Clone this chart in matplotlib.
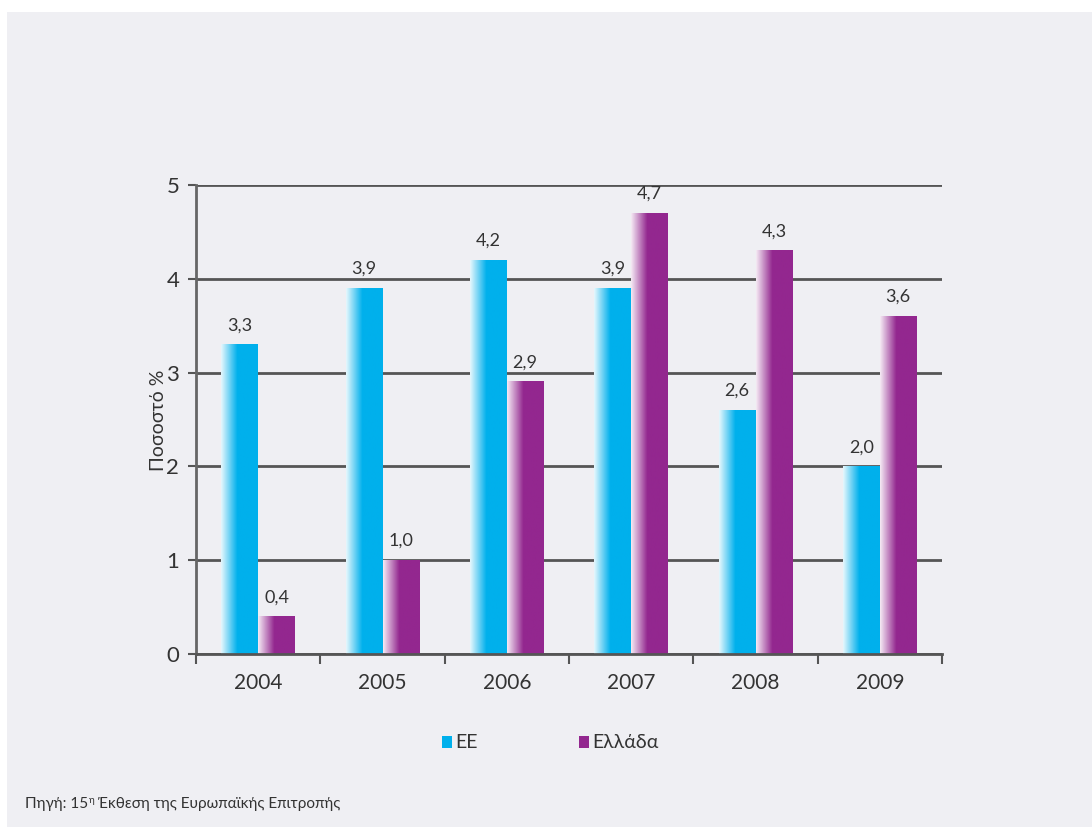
import matplotlib
matplotlib.use("Agg")
import matplotlib.pyplot as plt
import numpy as np
from matplotlib.colors import LinearSegmentedColormap
from matplotlib.patches import Rectangle

years = ["2004", "2005", "2006", "2007", "2008", "2009"]
ee = [3.3, 3.9, 4.2, 3.9, 2.6, 2.0]
greece = [0.4, 1.0, 2.9, 4.7, 4.3, 3.6]
series_names = ["ΕΕ", "Ελλάδα"]
y_ticks = [0, 1, 2, 3, 4, 5]
ylabel = "Ποσοστό %"
source_a = "Πηγή: 15"
source_sup = "η"
source_b = " Έκθεση της Ευρωπαϊκής Επιτροπής"

fam = ["Lato", "DejaVu Sans"]
plt.rcParams['font.family'] = fam

W, H = 1092, 827
fig = plt.figure(figsize=(W / 100, H / 100), dpi=100)
fig.patch.set_facecolor("white")
bg = "#efeff3"
fig.patches.append(Rectangle((7 / W, 0), 1 - 7 / W, 1 - 12 / H, transform=fig.transFigure,
                             facecolor=bg, edgecolor="none", zorder=-10))

ax = fig.add_axes([196 / W, 1 - 654 / H, (942 - 196) / W, (654 - 185) / H])
ax.set_facecolor(bg)

cyan = "#00b0ec"
purple = "#93278f"
x = np.arange(len(years))
bw = 0.295
txt = "#333333"

def grad_bars(xs, vals, color):
    cmap = LinearSegmentedColormap.from_list("g", ["#ffffff", color], N=256)
    bars = ax.bar(xs, vals, bw, color=color, edgecolor="none", zorder=3)
    for b in bars:
        x0, y0 = b.get_x(), b.get_y()
        w, h = b.get_width(), b.get_height()
        ramp = np.linspace(0.1, 1.0, 45)
        grad = np.concatenate([ramp, np.ones(55)]).reshape(1, -1)
        ax.imshow(grad, cmap=cmap, vmin=0, vmax=1, aspect="auto",
                  extent=(x0, x0 + w, y0, y0 + h), zorder=4, interpolation="bilinear")
    return bars

grad_bars(x - bw / 2, ee, cyan)
grad_bars(x + bw / 2, greece, purple)

for xs, vals in ((x - bw / 2, ee), (x + bw / 2, greece)):
    for xi, v in zip(xs, vals):
        ax.text(xi, v + 0.12, f"{v:.1f}".replace(".", ","), ha="center", va="bottom",
                fontsize=13, color=txt, zorder=6)

ax.set_xlim(-0.5, len(years) - 0.5)
ax.set_ylim(0, 5)
ax.set_yticks(y_ticks)
ax.set_yticklabels([str(t) for t in y_ticks], fontsize=16, color=txt)
ax.set_xticks(x)
ax.set_xticklabels(years, fontsize=15, color=txt)
ax.tick_params(axis="x", length=0, pad=14)
ax.set_xticks(np.arange(-0.5, len(years)), minor=True)
ax.tick_params(axis="x", which="minor", length=7, width=1.5, color="#555555", direction="out")
ax.tick_params(axis="y", length=6, width=1.5, color="#555555", pad=6)
ax.grid(axis="y", color="#555555", linewidth=2, zorder=1)
ax.set_axisbelow(True)
for s in ["top", "right"]:
    ax.spines[s].set_visible(False)
ax.spines["left"].set_color("#666666")
ax.spines["left"].set_linewidth(2)
ax.spines["bottom"].set_color("#555555")
ax.spines["bottom"].set_linewidth(2)
ax.spines["bottom"].set_zorder(5)

fig.text(158 / W, 1 - 420 / H, ylabel, rotation=90, ha="center", va="center",
         fontsize=14, color=txt)

# legend
for cx, col, name in ((448, cyan, series_names[0]), (585, purple, series_names[1])):
    fig.patches.append(Rectangle(((cx - 6) / W, 1 - 748 / H), 10 / W, 12 / H,
                                 transform=fig.transFigure, facecolor=col, edgecolor="none"))
    fig.text((cx + 7) / W, 1 - 742 / H, name, ha="left", va="center", fontsize=14, color=txt)

base_y = 1 - 808 / H
t1 = fig.text(25 / W, base_y, source_a, ha="left", va="baseline", fontsize=11, color=txt)
fig.canvas.draw()
r = fig.canvas.get_renderer()
bb = t1.get_window_extent(r)
t2 = fig.text(bb.x1 / W + 0.5 / W, base_y + 5 / H, source_sup, ha="left", va="baseline",
              fontsize=7, color=txt)
bb2 = t2.get_window_extent(r)
fig.text(bb2.x1 / W, base_y, source_b, ha="left", va="baseline", fontsize=11, color=txt)

fig.savefig("out.png", dpi=100, facecolor=fig.get_facecolor())
